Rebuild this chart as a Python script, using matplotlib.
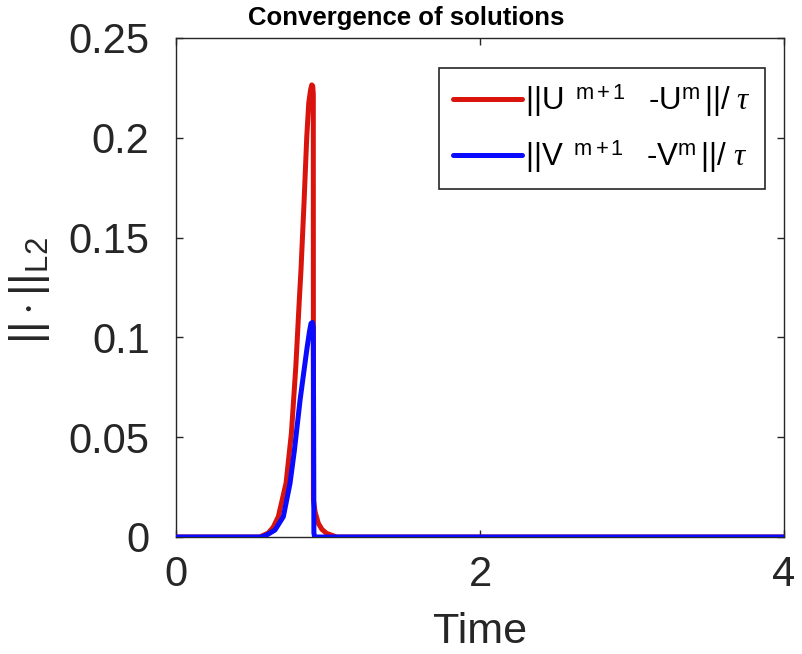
import matplotlib
matplotlib.use('Agg')
import matplotlib.pyplot as plt

plt.rcParams['font.family'] = ['Liberation Sans', 'DejaVu Sans']
plt.rcParams['mathtext.fontset'] = 'custom'
plt.rcParams['mathtext.rm'] = 'Liberation Sans'
plt.rcParams['mathtext.it'] = 'Liberation Serif:italic'

# values
t_u = [0.0, 0.55, 0.607, 0.64, 0.673, 0.724, 0.759, 0.788, 0.811, 0.822, 0.842,
       0.860, 0.873, 0.885, 0.893, 0.899, 0.903, 0.904, 0.915, 0.936, 0.96, 0.991,
       1.057, 4.0]
u_norm = [0.0, 0.0, 0.002, 0.005, 0.0102, 0.0271, 0.0521, 0.0853, 0.1187, 0.1338, 0.1673,
          0.2004, 0.2174, 0.2240, 0.2265, 0.2260, 0.222, 0.0185, 0.0125, 0.0069, 0.0038,
          0.0018, 0.0, 0.0]

t_v = [0.0, 0.56, 0.597, 0.651, 0.706, 0.75, 0.779, 0.816, 0.860, 0.878, 0.888,
       0.897, 0.903, 0.905, 0.907, 0.912, 4.0]
v_norm = [0.0, 0.0, 0.001, 0.0035, 0.0102, 0.0269, 0.0436, 0.0686, 0.0937, 0.103, 0.107,
          0.1075, 0.105, 0.06, 0.002, 0.0, 0.0]

xticks = [0, 2, 4]
yticks = [0, 0.05, 0.1, 0.15, 0.2, 0.25]
ytick_labels = ['0', '0.05', '0.1', '0.15', '0.2', '0.25']

fig = plt.figure(figsize=(8.02, 6.54), dpi=100)
ax = fig.add_axes([0.2195, 0.1789, 0.7581, 0.763])

ax.plot(t_u, u_norm, color='#d9140c', linewidth=3.6, solid_joinstyle='round',
        solid_capstyle='round', zorder=3,
        label=r'$\mathrm{||U}\ \,^{\mathrm{m+1}}\ \ \ \text{-U}^{\mathrm{m}}\,\mathrm{||/}\ \tau$')
ax.plot(t_v, v_norm, color='#0a0aff', linewidth=3.6, solid_joinstyle='round',
        solid_capstyle='round', zorder=3,
        label=r'$\mathrm{||V}\ \,^{\mathrm{m+1}}\ \ \ \text{-V}^{\mathrm{m}}\,\mathrm{||/}\ \tau$')

ax.set_xlim(0, 4)
ax.set_ylim(0, 0.25)
ax.set_xticks(xticks)
ax.set_xticklabels([str(x) for x in xticks])
ax.set_yticks(yticks)
ax.set_yticklabels(ytick_labels)

for s in ax.spines.values():
    s.set_color('#262626')
    s.set_linewidth(1.0)
ax.tick_params(direction='in', top=True, right=True, length=5, width=1.0,
               colors='#262626', labelsize=30)
ax.tick_params(axis='y', pad=19)
ax.tick_params(axis='x', pad=13)

ax.set_xlabel('Time', fontsize=31, color='#262626', labelpad=12)
fig.text(30 / 802, 1 - 291 / 654, r'$\mathrm{||\cdot||_{L2}}$', fontsize=32,
         color='#262626', rotation=90, ha='center', va='center')
fig.text(406 / 802, 1 - 18 / 654, 'Convergence of solutions', fontsize=18.5,
         fontweight='bold', ha='center', va='center')

leg = ax.legend(loc='upper right', bbox_to_anchor=(0.9688, 0.94), borderaxespad=0,
                fontsize=22.5, frameon=True, fancybox=False, framealpha=1,
                edgecolor='#262626', handlelength=2.2, handletextpad=0.1,
                labelspacing=0.6, borderpad=0.45)
leg.get_frame().set_linewidth(1.2)

fig.savefig('out.png', dpi=100)
